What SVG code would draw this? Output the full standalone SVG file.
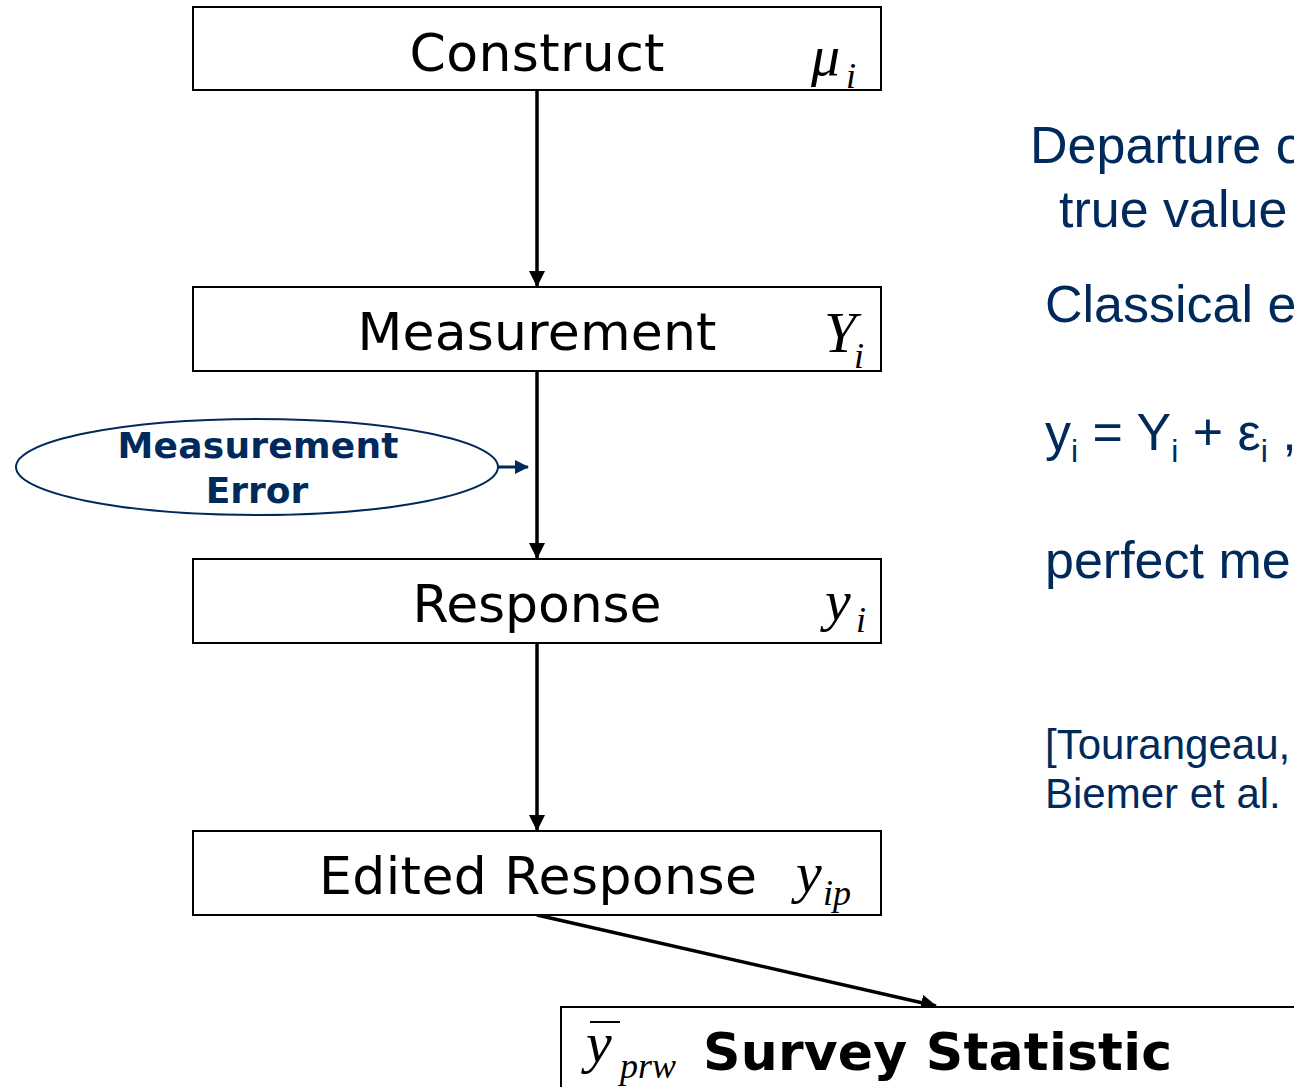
<svg xmlns="http://www.w3.org/2000/svg" width="1294" height="1087" viewBox="0 0 1294 1087">
<style>
.box{fill:#fff;stroke:#000;stroke-width:2}
.lbl{font-family:"DejaVu Sans",Verdana,sans-serif;font-size:52px;fill:#000;text-anchor:middle}
.math{font-family:"Liberation Serif","Times New Roman",serif;font-style:italic;fill:#000}
.big{font-size:58px}
.sub{font-size:36px}
.conn{stroke:#000;stroke-width:3.5;fill:none}
.side{font-family:"Liberation Sans",Arial,sans-serif;fill:#002a5c}
</style>
<defs>
<marker id="ah" markerUnits="userSpaceOnUse" markerWidth="16" markerHeight="16" viewBox="0 0 16 16" refX="15" refY="8" orient="auto">
<path d="M0,0 L16,8 L0,16 Z" fill="#000"/>
</marker>
<marker id="ahb" markerUnits="userSpaceOnUse" markerWidth="14" markerHeight="14" viewBox="0 0 14 14" refX="13" refY="7" orient="auto">
<path d="M0,0 L14,7 L0,14 Z" fill="#002a5c"/>
</marker>
</defs>
<rect width="1294" height="1087" fill="#fff"/>
<g id="connectors">
<line class="conn" x1="537" y1="91" x2="537" y2="286" marker-end="url(#ah)"/>
<line class="conn" x1="537" y1="372" x2="537" y2="558" marker-end="url(#ah)"/>
<line class="conn" x1="537" y1="644" x2="537" y2="830" marker-end="url(#ah)"/>
<line class="conn" x1="537" y1="915" x2="936" y2="1006" marker-end="url(#ah)"/>
<line x1="497" y1="467" x2="528" y2="467" stroke="#002a5c" stroke-width="3" marker-end="url(#ahb)"/>
</g>
<g id="construct">
<rect class="box" x="193" y="7" width="688" height="83"/>
<text class="lbl" x="537" y="71" textLength="255">Construct</text>
<text class="math" x="811" y="75"><tspan class="big">μ</tspan><tspan class="sub" x="846" y="88">i</tspan></text>
</g>
<g id="measurement">
<rect class="box" x="193" y="287" width="688" height="84"/>
<text class="lbl" x="537" y="350" textLength="359">Measurement</text>
<text class="math" x="824" y="352"><tspan class="big">Y</tspan><tspan class="sub" x="854" y="368">i</tspan></text>
</g>
<g id="measurement-error">
<ellipse cx="257" cy="467" rx="241" ry="48" fill="#fff" stroke="#002a5c" stroke-width="2"/>
<text x="258" y="458" font-family="'DejaVu Sans',Verdana,sans-serif" font-weight="bold" font-size="36" fill="#002a5c" text-anchor="middle" textLength="281">Measurement</text>
<text x="257" y="503" font-family="'DejaVu Sans',Verdana,sans-serif" font-weight="bold" font-size="36" fill="#002a5c" text-anchor="middle">Error</text>
</g>
<g id="response">
<rect class="box" x="193" y="559" width="688" height="84"/>
<text class="lbl" x="537" y="622" textLength="249">Response</text>
<text class="math" x="825" y="620"><tspan class="big">y</tspan><tspan class="sub" x="856" y="632">i</tspan></text>
</g>
<g id="edited-response">
<rect class="box" x="193" y="831" width="688" height="84"/>
<text class="lbl" x="538" y="894" textLength="438">Edited Response</text>
<text class="math" x="796" y="892"><tspan class="big">y</tspan><tspan class="sub" x="823" y="905">ip</tspan></text>
</g>
<g id="survey-statistic">
<rect class="box" x="561" y="1007" width="760" height="100"/>
<text class="math" x="586" y="1062"><tspan class="big">y</tspan><tspan class="sub" x="620" y="1078">prw</tspan></text>
<line x1="590" y1="1022" x2="620" y2="1022" stroke="#000" stroke-width="2"/>
<text x="703" y="1070" font-family="'DejaVu Sans',Verdana,sans-serif" font-weight="bold" font-size="52" fill="#000" textLength="469">Survey Statistic</text>
</g>
<g id="side-text">
<text class="side" x="1030" y="163" font-size="52">Departure o</text>
<text class="side" x="1059" y="227" font-size="52">true value</text>
<text class="side" x="1045" y="322" font-size="52">Classical e</text>
<text class="side" x="1045" y="450" font-size="52">y<tspan font-size="32" dy="12">i</tspan><tspan dy="-12"> = Y</tspan><tspan font-size="32" dy="12">i</tspan><tspan dy="-12"> + ε</tspan><tspan font-size="32" dy="12">i</tspan><tspan dy="-12"> ,</tspan></text>
<text class="side" x="1045" y="578" font-size="52">perfect me</text>
<text class="side" x="1045" y="759" font-size="42">[Tourangeau,</text>
<text class="side" x="1045" y="808" font-size="42">Biemer et al.</text>
</g>
</svg>
